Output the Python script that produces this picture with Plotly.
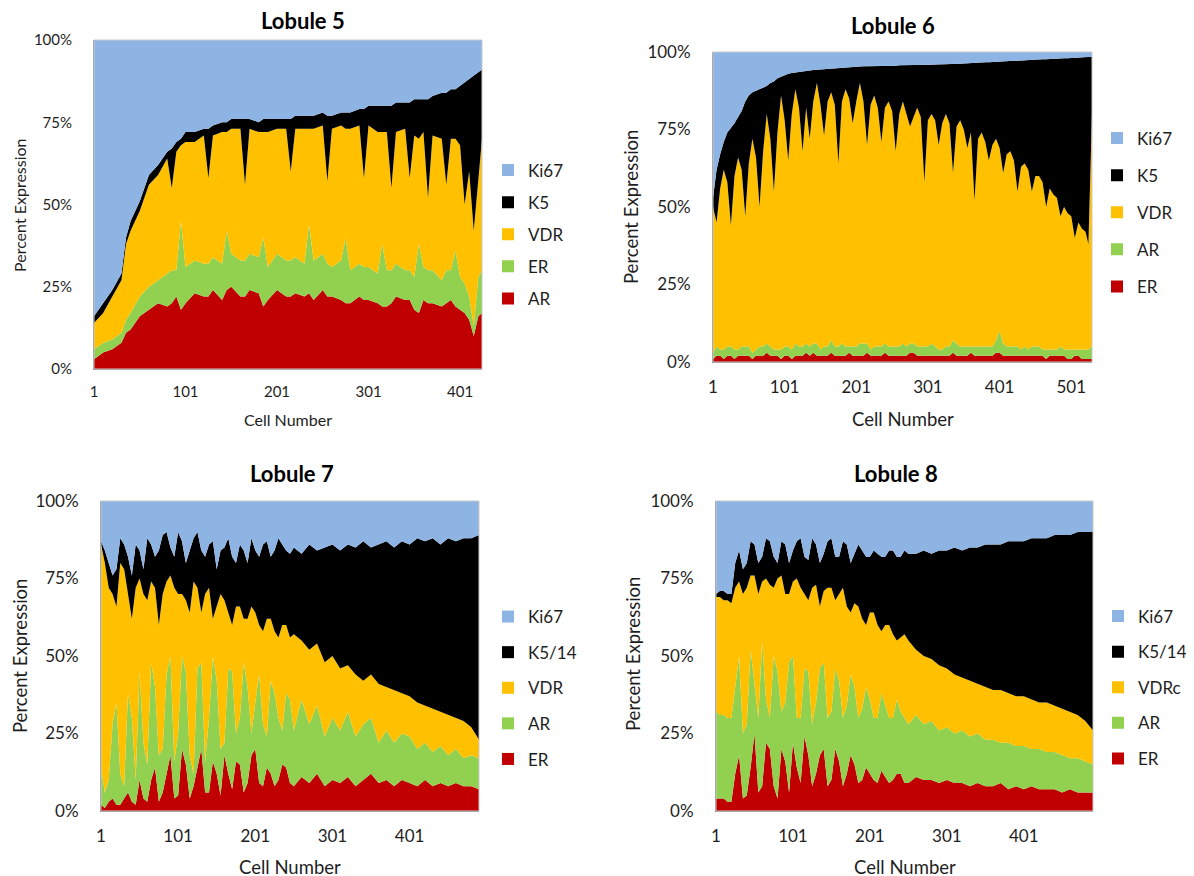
import plotly.graph_objects as go

# ---------------- DATA ----------------
# Lobule 5 (bottom to top: AR, ER, VDR, K5, Ki67), percent of expression
L5_CELLS = [1, 11, 21, 31, 36, 41, 51, 61, 71, 81, 86, 91, 96, 101, 111, 121, 126, 131, 141, 146,
            151, 161, 166, 171, 181, 186, 191, 201, 211, 216, 221, 231, 236, 241, 251, 256, 261, 271,
            276, 281, 291, 296, 301, 311, 316, 321, 326, 331, 341, 346, 351, 356, 361, 366, 371, 381,
            386, 391, 396, 401, 406, 411, 416, 421, 425]
L5_AR = [3, 5, 6, 8, 11, 12, 16, 18, 20, 19, 20, 22, 18, 20, 23, 22, 22, 24, 21, 24,
         25, 22, 22, 24, 23, 19, 21, 24, 22, 22, 23, 22, 23, 21, 24, 22, 22, 21,
         20, 20, 22, 21, 21, 20, 19, 19, 20, 22, 21, 21, 18, 17, 21, 20, 20, 19,
         20, 21, 19, 18, 17, 15, 10, 16, 17]
L5_ER = [3, 3, 3, 3, 4, 5, 6, 7, 7, 10, 10, 8, 27, 11, 10, 10, 10, 10, 11, 18,
         10, 11, 11, 11, 11, 21, 10, 11, 11, 11, 11, 10, 21, 12, 11, 10, 9, 12,
         20, 10, 10, 10, 10, 9, 19, 11, 10, 10, 9, 9, 10, 21, 10, 10, 10, 8,
         10, 9, 17, 10, 9, 7, 3, 12, 13]
L5_VDR = [8, 9, 13, 16, 23, 25, 26, 31, 32, 35, 25, 36, 23, 38, 36, 39, 26, 37, 40, 30,
          38, 40, 23, 38, 38, 32, 41, 38, 40, 27, 39, 41, 29, 40, 39, 25, 42, 41,
          33, 43, 42, 27, 43, 43, 34, 42, 25, 40, 43, 28, 43, 32, 41, 22, 41, 43,
          26, 40, 34, 40, 24, 38, 29, 30, 40]
L5_K5 = [2, 3, 2, 2, 2, 3, 3, 3, 3, 2, 12, 3, 2, 3, 3, 2, 15, 3, 3, 3,
         3, 3, 20, 3, 3, 4, 4, 3, 3, 16, 4, 4, 4, 4, 4, 20, 4, 4,
         5, 5, 5, 21, 6, 8, 8, 8, 25, 9, 8, 23, 11, 12, 10, 30, 12, 14,
         28, 15, 15, 18, 37, 28, 47, 32, 21]
L5_KI67 = [84, 80, 76, 71, 60, 55, 49, 41, 38, 34, 33, 31, 30, 28, 28, 27, 27, 26, 25, 25,
           24, 24, 24, 24, 25, 24, 24, 24, 24, 24, 23, 23, 23, 23, 22, 23, 23, 22,
           22, 22, 21, 21, 20, 20, 20, 20, 20, 19, 19, 19, 18, 18, 18, 18, 17, 16,
           16, 15, 15, 14, 13, 12, 11, 10, 9]

# Lobule 6 (bottom to top: ER, AR, VDR, K5, Ki67)
L6_CELLS = [1, 6, 11, 16, 21, 26, 31, 36, 41, 46, 51, 56, 61, 66, 71, 76, 81, 86, 91, 96,
            101, 106, 111, 116, 121, 126, 131, 136, 141, 146, 151, 156, 161, 166, 171, 176, 181, 186, 191, 196,
            201, 206, 211, 216, 221, 226, 231, 236, 241, 246, 251, 256, 261, 266, 271, 276, 281, 286, 291, 296,
            301, 306, 311, 316, 321, 326, 331, 336, 341, 346, 351, 356, 361, 366, 371, 376, 381, 386, 391, 396,
            401, 406, 411, 416, 421, 426, 431, 436, 441, 446, 451, 456, 461, 466, 471, 476, 481, 486, 491, 496,
            501, 506, 511, 516, 521, 525, 530]
L6_ER = [1, 2, 2, 1, 2, 2, 1, 2, 2, 2, 2, 1, 2, 2, 2, 3, 2, 2, 2, 1,
         2, 2, 1, 2, 2, 2, 3, 2, 3, 2, 2, 2, 2, 3, 2, 2, 2, 2, 3, 2,
         2, 2, 2, 3, 2, 2, 2, 2, 3, 2, 2, 2, 2, 2, 2, 3, 3, 2, 2, 2,
         2, 2, 2, 2, 2, 2, 2, 3, 2, 2, 2, 2, 3, 2, 2, 2, 2, 2, 2, 3,
         3, 2, 2, 2, 2, 2, 2, 2, 2, 2, 2, 2, 2, 1, 2, 2, 2, 2, 2, 1,
         1, 2, 2, 1, 1, 1, 1]
L6_AR = [2, 3, 2, 3, 3, 3, 3, 2, 3, 3, 3, 2, 2, 3, 3, 3, 3, 2, 2, 3,
         3, 3, 3, 4, 3, 3, 3, 3, 3, 4, 2, 3, 3, 4, 3, 3, 4, 3, 2, 3,
         3, 4, 4, 3, 2, 3, 3, 3, 3, 3, 3, 3, 3, 4, 3, 3, 3, 3, 3, 3,
         3, 4, 3, 2, 2, 3, 3, 4, 4, 3, 3, 3, 2, 3, 3, 3, 3, 3, 3, 4,
         7, 4, 3, 3, 3, 3, 2, 3, 2, 3, 3, 3, 2, 3, 2, 2, 2, 3, 2, 3,
         3, 2, 2, 3, 3, 3, 4]
L6_VDR = [47, 40, 52, 58, 53, 39, 56, 62, 57, 42, 59, 69, 62, 45, 63, 74, 67, 51, 70, 82,
          73, 60, 76, 82, 77, 63, 76, 67, 78, 84, 79, 68, 79, 80, 78, 59, 78, 83, 80, 72,
          79, 84, 78, 64, 79, 81, 77, 66, 76, 79, 76, 63, 75, 78, 75, 70, 73, 77, 74, 53,
          73, 74, 73, 66, 73, 75, 72, 54, 70, 73, 70, 64, 69, 47, 67, 69, 66, 60, 65, 65,
          59, 55, 62, 63, 60, 50, 59, 59, 58, 50, 55, 55, 54, 46, 52, 50, 49, 42, 46, 44,
          43, 36, 41, 39, 38, 34, 75]
L6_K5 = [3, 17, 11, 9, 16, 31.5, 17, 13, 19, 37, 22, 15, 21.5, 38, 20.5, 9, 18, 35.5, 17.5, 6,
         14.7, 28, 13.2, 5.4, 11.6, 25.8, 12, 22.1, 10.2, 4.3, 11.4, 21.5, 10.6, 7.7, 11.8, 30.9, 11, 7.1, 10.2, 18.2,
         11.3, 5.3, 11.4, 25.4, 12.4, 9.5, 13.5, 24.5, 13.5, 11.6, 14.6, 27.6, 15.7, 11.7, 15.7, 19.7, 16.8, 13.8, 16.8, 37.8,
         17.8, 15.9, 18, 26, 19, 16, 19.1, 35.1, 20.2, 18.2, 21.3, 27.4, 22.5, 44.5, 24.6, 22.6, 25.7, 31.7, 26.8, 24.9,
         28, 36, 30.1, 29.1, 32.2, 42.2, 34.3, 33.3, 35.4, 42.5, 37.6, 37.6, 39.7, 47.7, 41.8, 43.8, 44.9, 50.9, 48, 50,
         51.1, 58.1, 53.2, 55.2, 56.3, 60.4, 18.5]
L6_KI67 = [47, 38, 33, 29, 26, 24.5, 23, 21, 19, 16, 14, 13, 12.5, 12, 11.5, 11, 10, 9.5, 8.5, 8,
           7.3, 7, 6.8, 6.6, 6.4, 6.2, 6, 5.9, 5.8, 5.7, 5.6, 5.5, 5.4, 5.3, 5.2, 5.1, 5, 4.9, 4.8, 4.8,
           4.7, 4.7, 4.6, 4.6, 4.6, 4.5, 4.5, 4.5, 4.5, 4.4, 4.4, 4.4, 4.3, 4.3, 4.3, 4.3, 4.2, 4.2, 4.2, 4.2,
           4.2, 4.1, 4, 4, 4, 4, 3.9, 3.9, 3.8, 3.8, 3.7, 3.6, 3.5, 3.5, 3.4, 3.4, 3.3, 3.3, 3.2, 3.1,
           3, 3, 2.9, 2.9, 2.8, 2.8, 2.7, 2.7, 2.6, 2.5, 2.4, 2.4, 2.3, 2.3, 2.2, 2.2, 2.1, 2.1, 2, 2,
           1.9, 1.9, 1.8, 1.8, 1.7, 1.6, 1.5]

# Lobule 7 (bottom to top: ER, AR, VDR, K5/14, Ki67)
L7_CELLS = [1, 6, 11, 16, 21, 26, 31, 36, 41, 46, 51, 56, 61, 66, 71, 76, 81, 86, 91, 96,
            101, 106, 111, 116, 121, 126, 131, 136, 141, 146, 151, 156, 161, 166, 171, 176, 181, 186, 191, 196,
            201, 206, 211, 216, 221, 226, 231, 236, 241, 246,
            251, 261, 271, 281, 291, 301, 311, 321, 331, 341, 351, 361, 371,
            381, 391, 401, 411, 421, 431, 441, 451, 461, 471, 481, 491]
L7_ER = [2, 1, 3, 4, 2, 2, 4, 6, 3, 2, 10, 4, 3, 10, 14, 3, 6, 12, 18, 4,
         5, 20, 15, 4, 8, 14, 20, 6, 6, 16, 12, 5, 18, 12, 7, 16, 15, 6, 9, 18,
         20, 9, 8, 14, 12, 8, 10, 15, 14, 9,
         8, 11, 9, 12, 8, 10, 9, 11, 8, 10, 12, 9, 10, 8, 10, 9, 8, 10, 8, 9, 8, 9, 8, 8, 7]
L7_AR = [12, 5, 7, 24, 33, 10, 4, 32, 27, 8, 35, 18, 12, 38, 26, 15, 14, 32, 32, 12,
         20, 30, 30, 14, 4, 32, 28, 10, 24, 34, 30, 15, 4, 34, 38, 9, 15, 42, 31, 7,
         15, 35, 20, 10, 30, 30, 20, 11, 24, 27,
         18, 25, 19, 22, 16, 20, 17, 21, 16, 18, 18, 13, 16, 14, 15, 15, 12, 12, 11, 12, 10, 11, 9, 10, 10]
L7_VDR = [72, 74, 62, 42, 31, 68, 70, 32, 32, 62, 30, 48, 53, 26, 32, 42, 50, 30, 26, 56,
          45, 20, 23, 46, 62, 26, 16, 54, 42, 12, 24, 50, 46, 18, 15, 41, 36, 14, 22, 41,
          29, 16, 30, 38, 20, 20, 26, 34, 22, 20,
          31, 19, 24, 20, 24, 20, 20, 15, 20, 14, 14, 19, 14, 17, 13, 13, 15, 12, 14, 11, 13, 10, 12, 9, 6]
L7_K5_14 = [1, 4, 8, 6, 12, 8, 8, 12, 14, 14, 9, 8, 20, 12, 10, 24, 19, 16, 9, 10,
            20, 17, 12, 20, 14, 18, 20, 12, 14, 25, 12, 14, 17, 24, 22, 14, 20, 22, 18, 22,
            20, 22, 28, 25, 20, 26, 32, 26, 24, 27,
            28, 28, 34, 30, 37, 36, 38, 39, 41, 45, 41, 45, 47, 46, 49, 49, 53, 53, 55, 54, 57, 57, 59, 61, 66]
L7_KI67 = [13, 16, 20, 24, 22, 12, 14, 18, 24, 14, 16, 22, 12, 14, 18, 16, 11, 10, 15, 18,
           10, 13, 20, 16, 12, 10, 16, 18, 14, 13, 22, 16, 15, 12, 18, 20, 14, 16, 20, 12,
           16, 18, 14, 13, 18, 16, 12, 14, 16, 17,
           15, 17, 14, 16, 15, 14, 16, 14, 15, 13, 15, 14, 13, 15, 13, 14, 12, 13, 12, 14, 12, 13, 12, 12, 11]

# Lobule 8 (bottom to top: ER, AR, VDRc, K5/14, Ki67)
L8_CELLS = [1, 6, 11, 16, 21, 26, 31, 36, 41, 46, 51, 56, 61, 66, 71, 76, 81, 86, 91, 96,
            101, 106, 111, 116, 121, 126, 131, 136, 141, 146, 151, 156, 161, 166, 171, 176, 181, 186, 191, 196,
            201, 206, 211, 216, 221, 226, 231, 236, 241, 246,
            251, 261, 271, 281, 291, 301, 311, 321, 331, 341, 351, 361, 371,
            381, 391, 401, 411, 421, 431, 441, 451, 461, 471, 481, 491]
L8_ER = [4, 4, 4, 3, 3, 12, 18, 4, 5, 14, 25, 6, 8, 22, 20, 8, 4, 20, 16, 6,
         22, 14, 9, 24, 18, 8, 12, 18, 20, 8, 10, 20, 16, 8, 12, 18, 15, 9, 10, 14,
         12, 10, 9, 13, 11, 9, 10, 12, 12, 9,
         9, 11, 10, 10, 9, 10, 9, 9, 8, 9, 8, 8, 9, 7, 8, 7, 8, 7, 7, 7, 6, 7, 6, 6, 6]
L8_AR = [28, 27, 27, 27, 27, 28, 32, 21, 23, 38, 15, 24, 47, 14, 10, 42, 41, 12, 19, 42,
         28, 16, 21, 22, 27, 20, 23, 28, 28, 22, 22, 26, 26, 22, 22, 26, 25, 21, 23, 26,
         24, 20, 21, 25, 23, 21, 20, 24, 20, 21,
         19, 20, 18, 19, 17, 17, 16, 17, 16, 16, 15, 15, 13, 15, 13, 14, 12, 13, 12, 12, 12, 10, 11, 10, 9]
L8_VDRC = [37, 38, 37, 38, 37, 32, 24, 45, 44, 24, 36, 40, 19, 39, 43, 22, 30, 44, 35, 22,
           24, 45, 42, 24, 23, 44, 38, 20, 23, 42, 40, 22, 28, 42, 32, 20, 27, 36, 29, 20,
           28, 34, 30, 20, 26, 30, 27, 19, 24, 27,
           27, 21, 22, 20, 21, 19, 19, 17, 18, 16, 17, 16, 17, 16, 16, 16, 16, 15, 16, 15, 15, 15, 14, 13, 11]
L8_K5_14 = [1, 2, 3, 2, 3, 8, 10, 8, 8, 11, 10, 10, 8, 13, 14, 10, 5, 11, 16, 10,
            10, 12, 16, 12, 13, 16, 13, 14, 12, 15, 16, 14, 12, 15, 20, 16, 16, 20, 22, 22,
            18, 20, 23, 24, 22, 24, 27, 27, 26, 27,
            28, 31, 34, 34, 37, 38, 41, 41, 43, 44, 46, 47, 47, 49, 50, 50, 52, 53, 53, 55, 56, 57, 59, 61, 64]
L8_KI67 = [30, 29, 29, 30, 30, 20, 16, 22, 20, 13, 14, 20, 18, 12, 13, 18, 20, 13, 14, 20,
           16, 13, 12, 18, 19, 12, 14, 20, 17, 13, 12, 18, 18, 13, 14, 20, 17, 14, 16, 18,
           18, 16, 17, 18, 18, 16, 16, 18, 18, 16,
           17, 17, 16, 17, 16, 16, 15, 16, 15, 15, 14, 14, 14, 13, 13, 13, 12, 12, 12, 11, 11, 11, 10, 10, 10]

TICK_CELLS = [1, 101, 201, 301, 401, 501]
PCT_TICKS = [0, 25, 50, 75, 100]
PCT_LABELS = ["0%", "25%", "50%", "75%", "100%"]

# ---------------- STYLE ----------------
BLUE, BLACK, YELLOW, GREEN, RED = "#8EB4E3", "#000000", "#FFC000", "#92D050", "#C00000"
FONT = "Lato, 'Open Sans', sans-serif"
TXT = "#1e1e1e"
W, H = 1194, 876
OFF = 8  # the page body margin shifts the figure by 8 px on screen


def px_x(p):
    return (p - OFF) / W


def px_y(p):
    return 1 - (p - OFF) / H


panels = [
    dict(cells=L5_CELLS, title="Lobule 5",
         series=[("AR", L5_AR, RED), ("ER", L5_ER, GREEN), ("VDR", L5_VDR, YELLOW),
                 ("K5", L5_K5, BLACK), ("Ki67", L5_KI67, BLUE)],
         box=(94, 482, 40, 369), tick=15, atitle=16, title_xy=(303, 20),
         xt_y=419, yt_x=20, yt_y=205, leg=(488, 234.5), gap=7, ystand=18, xstand=9),
    dict(cells=L6_CELLS, title="Lobule 6",
         series=[("ER", L6_ER, RED), ("AR", L6_AR, GREEN), ("VDR", L6_VDR, YELLOW),
                 ("K5", L6_K5, BLACK), ("Ki67", L6_KI67, BLUE)],
         box=(713, 1092, 52, 362), tick=17, atitle=18.5, title_xy=(893, 25),
         xt_y=419, yt_x=631, yt_y=207, leg=(1097, 212.5), gap=12, ystand=18, xstand=10),
    dict(cells=L7_CELLS, title="Lobule 7",
         series=[("ER", L7_ER, RED), ("AR", L7_AR, GREEN), ("VDR", L7_VDR, YELLOW),
                 ("K5/14", L7_K5_14, BLACK), ("Ki67", L7_KI67, BLUE)],
         box=(101, 479, 501, 811), tick=17, atitle=18.5, title_xy=(292, 473),
         xt_y=867, yt_x=20, yt_y=656, leg=(488, 688), gap=10.5, ystand=18, xstand=10),
    dict(cells=L8_CELLS, title="Lobule 8",
         series=[("ER", L8_ER, RED), ("AR", L8_AR, GREEN), ("VDRc", L8_VDRC, YELLOW),
                 ("K5/14", L8_K5_14, BLACK), ("Ki67", L8_KI67, BLUE)],
         box=(716, 1093, 501, 811), tick=17, atitle=18.5, title_xy=(896, 473),
         xt_y=867, yt_x=633, yt_y=654, leg=(1098, 687.5), gap=10.5, ystand=18, xstand=10),
]

fig = go.Figure()
layout = dict(width=W, height=H, margin=dict(l=0, r=0, t=0, b=0, pad=0, autoexpand=False),
              paper_bgcolor="white", plot_bgcolor="white",
              font=dict(family=FONT, color=TXT), showlegend=True)
annotations = []
shapes = []

for i, p in enumerate(panels, start=1):
    sfx = "" if i == 1 else str(i)
    xa, ya = "x" + sfx, "y" + sfx
    legname = "legend" if i == 1 else "legend" + str(i)
    for name, vals, col in p["series"]:
        fig.add_trace(go.Scatter(
            x=p["cells"], y=vals, name=name, mode="lines",
            line=dict(width=0, color=col), fillcolor=col,
            stackgroup="g" + str(i), groupnorm="percent",
            xaxis=xa, yaxis=ya, showlegend=False, hoverinfo="skip"))
    # legend entries (top of stack listed first, as in the reference)
    for name, vals, col in reversed(p["series"]):
        fig.add_trace(go.Scatter(
            x=[None], y=[None], name=name, mode="markers",
            marker=dict(symbol="square", size=12, color=col, line=dict(width=0)),
            xaxis=xa, yaxis=ya, legend=legname, legendgroup=f"{i}{name}",
            showlegend=True, hoverinfo="skip"))

    x0, x1, y0, y1 = p["box"]
    n_last = p["cells"][-1]
    layout["xaxis" + sfx] = dict(
        domain=[px_x(x0), px_x(x1)], range=[1, n_last], anchor=ya,
        tickvals=[t for t in TICK_CELLS if t <= n_last], ticks="",
        ticklabelstandoff=p["xstand"], tickfont=dict(size=p["tick"], family=FONT, color=TXT),
        showgrid=False, zeroline=False, showline=True, linecolor="#8C8C8C", linewidth=1,
        fixedrange=True, automargin=False)
    layout["yaxis" + sfx] = dict(
        domain=[px_y(y1), px_y(y0)], range=[0, 100], anchor=xa,
        tickvals=PCT_TICKS, ticktext=PCT_LABELS, ticks="",
        ticklabelstandoff=p["ystand"], tickfont=dict(size=p["tick"], family=FONT, color=TXT),
        showgrid=False, zeroline=False, showline=True, linecolor="#8C8C8C", linewidth=1,
        fixedrange=True, automargin=False)
    shapes.append(dict(type="rect", xref=xa + " domain", yref=ya + " domain",
                       x0=0, x1=1, y0=0, y1=1, line=dict(color="#C8C8C8", width=1),
                       fillcolor="rgba(0,0,0,0)", layer="above"))
    layout[legname] = dict(x=px_x(p["leg"][0]), y=px_y(p["leg"][1]), xanchor="left",
                           yanchor="middle", bgcolor="rgba(0,0,0,0)", borderwidth=0,
                           font=dict(size=17, family=FONT, color=TXT),
                           tracegroupgap=p["gap"], traceorder="grouped",
                           itemclick=False, itemdoubleclick=False)
    tx, ty = p["title_xy"]
    annotations.append(dict(text="<b>" + p["title"] + "</b>", x=px_x(tx), y=px_y(ty),
                            xref="paper", yref="paper", showarrow=False,
                            xanchor="center", yanchor="middle",
                            font=dict(size=22, family=FONT, color="#000000")))
    annotations.append(dict(text="Cell Number", x=px_x((x0 + x1) / 2), y=px_y(p["xt_y"]),
                            xref="paper", yref="paper", showarrow=False,
                            xanchor="center", yanchor="middle",
                            font=dict(size=p["atitle"], family=FONT, color=TXT)))
    annotations.append(dict(text="Percent Expression", x=px_x(p["yt_x"]), y=px_y(p["yt_y"]),
                            xref="paper", yref="paper", showarrow=False, textangle=-90,
                            xanchor="center", yanchor="middle",
                            font=dict(size=p["atitle"], family=FONT, color=TXT)))

layout["annotations"] = annotations
layout["shapes"] = shapes
fig.update_layout(**layout)
fig.write_html("out.html")
